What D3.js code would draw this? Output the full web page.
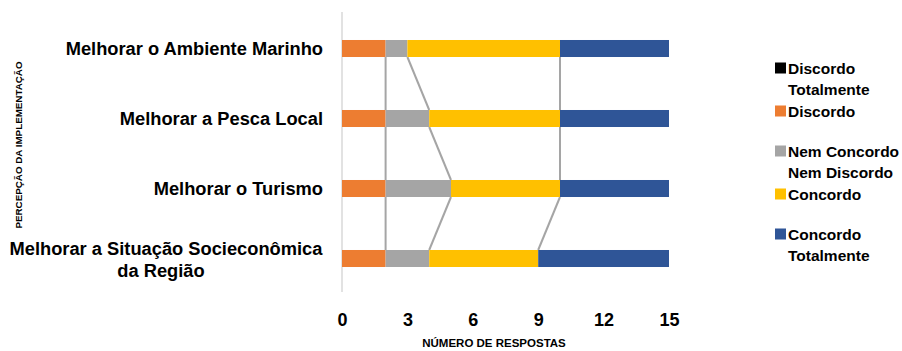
<!DOCTYPE html>
<html lang="pt">
<head>
<meta charset="UTF-8">
<title>Percepção da implementação</title>
<script src="https://cdn.jsdelivr.net/npm/d3@7"></script>
<style>
  body { margin: 0; background: #fff; }
  text { font-family: "Liberation Sans", Arial, sans-serif; font-weight: bold; fill: #000; }
</style>
</head>
<body>
<div id="chart"></div>
<script>
// categorias de cima para baixo
const categories = [
  "Melhorar o Ambiente Marinho",
  "Melhorar a Pesca Local",
  "Melhorar o Turismo",
  "Melhorar a Situação Socieconômica da Região"
];
const seriesNames = ["Discordo Totalmente", "Discordo", "Nem Concordo Nem Discordo", "Concordo", "Concordo Totalmente"];
const discordoTotalmente = [0, 0, 0, 0];
const discordo = [2, 2, 2, 2];
const nemNem = [1, 2, 3, 2];
const concordo = [7, 6, 5, 5];
const concordoTotalmente = [5, 5, 5, 6];
const xTicks = [0, 3, 6, 9, 12, 15];
const colors = ["#000000", "#ED7D31", "#A5A5A5", "#FFC000", "#2F5597"];

const W = 902, H = 351;
const svg = d3.select("#chart").append("svg").attr("width", W).attr("height", H);

const allValues = [discordoTotalmente, discordo, nemNem, concordo, concordoTotalmente];
const rows = categories.map((c, i) => {
  const r = { cat: c };
  seriesNames.forEach((s, k) => r[s] = allValues[k][i]);
  return r;
});
const stacked = d3.stack().keys(seriesNames)(rows);

const x = d3.scaleLinear().domain([0, 15]).range([342, 669]);
const y = d3.scaleBand().domain(categories).range([13.5, 293.5])
  .paddingInner(0.757).paddingOuter(0.3785);
const bw = y.bandwidth();

// linha do eixo vertical
svg.append("line")
  .attr("x1", x(0)).attr("x2", x(0)).attr("y1", 12).attr("y2", 292)
  .attr("stroke", "#D9D9D9").attr("stroke-width", 1.5);

// linhas de série (entre as barras)
const seriesLines = svg.append("g");
stacked.slice(1, stacked.length - 1).forEach(layer => {
  for (let j = 0; j < layer.length - 1; j++) {
    seriesLines.append("line")
      .attr("x1", x(layer[j][1])).attr("y1", y(categories[j]) + bw)
      .attr("x2", x(layer[j + 1][1])).attr("y2", y(categories[j + 1]))
      .attr("stroke", "#A5A5A5").attr("stroke-width", 2);
  }
});

// barras empilhadas
svg.append("g").selectAll("g").data(stacked).join("g")
  .attr("fill", (d, i) => colors[i])
  .selectAll("rect").data(d => d).join("rect")
  .attr("x", d => x(d[0]))
  .attr("y", d => y(d.data.cat))
  .attr("width", d => x(d[1]) - x(d[0]))
  .attr("height", bw);

// rótulos das categorias
const catFont = 18.3;
categories.forEach(c => {
  const cy = y(c) + bw / 2;
  if (c.length > 30) {
    const parts = ["Melhorar a Situação Socieconômica", "da Região"];
    svg.append("text").attr("x", 166).attr("y", cy - 4)
      .attr("text-anchor", "middle").attr("font-size", catFont).text(parts[0]);
    svg.append("text").attr("x", 161).attr("y", cy + 18)
      .attr("text-anchor", "middle").attr("font-size", catFont).text(parts[1]);
  } else {
    svg.append("text").attr("x", 323).attr("y", cy + 6.5)
      .attr("text-anchor", "end").attr("font-size", catFont).text(c);
  }
});

// eixo x
const xAxis = svg.append("g").attr("transform", "translate(0,313)")
  .call(d3.axisBottom(x).tickValues(xTicks).tickSize(0).tickPadding(0));
xAxis.select(".domain").remove();
xAxis.selectAll("text").attr("font-size", 18).attr("dy", "0.71em")
  .style("font-family", "'Liberation Sans', Arial, sans-serif").style("font-weight", "bold").attr("fill", "#000");

svg.append("text").attr("x", 494).attr("y", 347)
  .attr("text-anchor", "middle").attr("font-size", 11.5).text("NÚMERO DE RESPOSTAS");

svg.append("text").attr("transform", "translate(22,145) rotate(-90)")
  .attr("text-anchor", "middle").attr("font-size", 9.8).text("PERCEPÇÃO DA IMPLEMENTAÇÃO");

// legenda
const legendLines = [["Discordo", "Totalmente"], ["Discordo"], ["Nem Concordo", "Nem Discordo"], ["Concordo"], ["Concordo", "Totalmente"]];
const legendY = [68, 111, 151, 194, 234];
const legend = svg.append("g");
seriesNames.forEach((s, i) => {
  legend.append("rect").attr("x", 775).attr("y", legendY[i] - 5.5)
    .attr("width", 11).attr("height", 11).attr("fill", colors[i]);
  legendLines[i].forEach((t, k) => {
    legend.append("text").attr("x", 788).attr("y", legendY[i] + 5.5 + k * 21)
      .attr("font-size", 15.5).text(t);
  });
});
</script>
</body>
</html>
